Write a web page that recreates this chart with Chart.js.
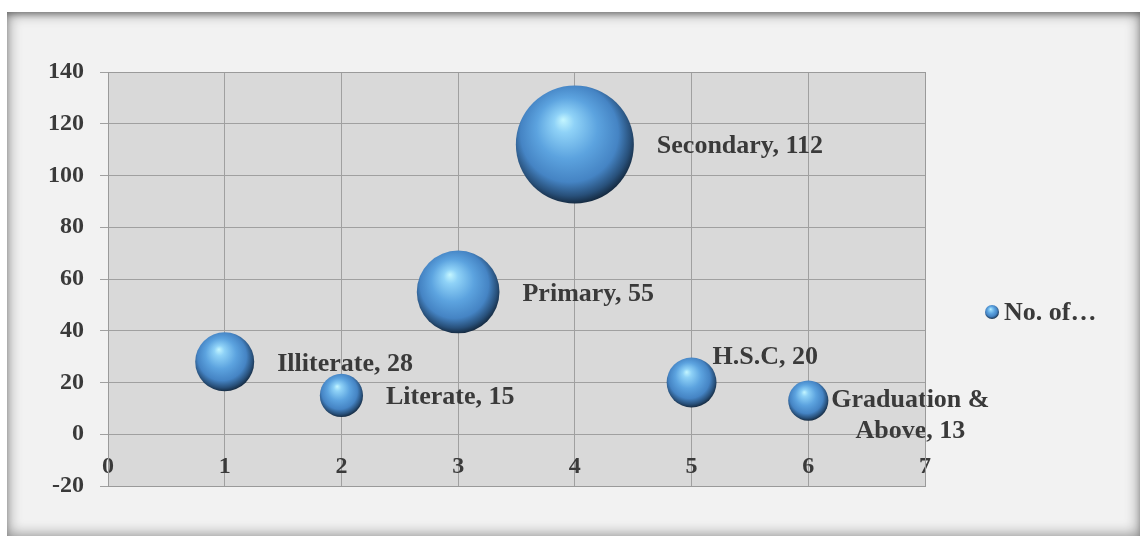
<!DOCTYPE html>
<html>
<head>
<meta charset="utf-8">
<script src="https://cdn.jsdelivr.net/npm/chart.js@4"></script>
<style>
  html, body { margin: 0; padding: 0; background: #fff; }
  #frame {
    position: absolute; left: 7px; top: 12px; width: 1133px; height: 524px;
    background: #f2f2f2;
    box-shadow: inset 0 0 14px 1px rgba(0,0,0,0.42), inset 0 4px 6px -2px rgba(0,0,0,0.35);
  }
  #myChart { position: absolute; left: 0; top: 0; }
</style>
</head>
<body>
<div id="frame"></div>
<canvas id="myChart" width="1140" height="539"></canvas>
<script>
// education levels, x position, value (also the bubble size)
const categories = ['Illiterate', 'Literate', 'Primary', 'Secondary', 'H.S.C', 'Graduation & Above'];
const xValues = [1, 2, 3, 4, 5, 6];
const counts = [28, 15, 55, 112, 20, 13];
const seriesName = 'No. of…';

const FONT = 'Liberation Serif, Times New Roman, serif';
const TEXT = '#3a3a3a';
const maxCount = Math.max(...counts);

function bubbleRadius(v) {
  return 59 * Math.sqrt(v / maxCount);
}

function sphereFill(c, x, y, r) {
  const g = c.createRadialGradient(x - 0.2 * r, y - 0.42 * r, 0, x - 0.05 * r, y - 0.1 * r, r * 1.15);
  g.addColorStop(0, '#c4f6ff');
  g.addColorStop(0.15, '#8fd2f7');
  g.addColorStop(0.45, '#5ca3df');
  g.addColorStop(0.72, '#4584c4');
  g.addColorStop(0.88, '#28507a');
  g.addColorStop(1, '#0f1e2e');
  return g;
}

const plotBg = {
  id: 'plotBg',
  beforeDraw(chart) {
    const a = chart.chartArea;
    const c = chart.ctx;
    c.save();
    c.fillStyle = '#d9d9d9';
    c.fillRect(a.left, a.top, a.width, a.height);
    c.restore();
  },
  afterDraw(chart) {
    const a = chart.chartArea;
    const c = chart.ctx;
    c.save();
    c.strokeStyle = '#9a9a9a';
    c.lineWidth = 1;
    c.strokeRect(Math.round(a.left) + 0.5, Math.round(a.top) + 0.5, Math.round(a.width), Math.round(a.height));
    c.restore();
  }
};

// data labels: "Name, value"
const labelPlace = { 4: 'above', 5: 'twoLines' };
const bubbleLabels = {
  id: 'bubbleLabels',
  afterDatasetsDraw(chart) {
    const c = chart.ctx;
    const meta = chart.getDatasetMeta(0);
    c.save();
    c.font = 'bold 26px ' + FONT;
    c.fillStyle = TEXT;
    c.textBaseline = 'middle';
    meta.data.forEach((el, i) => {
      const r = el.options.radius;
      const place = labelPlace[i] || 'right';
      const text = categories[i] + ', ' + counts[i];
      if (place === 'right') {
        c.textAlign = 'left';
        c.fillText(text, el.x + r + 23, el.y + 2);
      } else if (place === 'above') {
        c.textAlign = 'left';
        c.fillText(text, el.x + 21, el.y - r);
      } else {
        const words = categories[i].split(' ');
        const line1 = words.slice(0, 2).join(' ');
        const line2 = words.slice(2).join(' ') + ', ' + counts[i];
        c.textAlign = 'center';
        c.fillText(line1, el.x + r + 82, el.y);
        c.fillText(line2, el.x + r + 82, el.y + 31);
      }
    });
    c.restore();
  }
};

const sideLegend = {
  id: 'sideLegend',
  afterDraw(chart) {
    const c = chart.ctx;
    const x = 992, y = 312, r = 7;
    c.save();
    c.beginPath();
    c.arc(x, y, r, 0, Math.PI * 2);
    c.fillStyle = sphereFill(c, x, y, r);
    c.fill();
    c.font = 'bold 26px ' + FONT;
    c.fillStyle = TEXT;
    c.textAlign = 'left';
    c.textBaseline = 'middle';
    c.fillText(seriesName, 1004, y + 1);
    c.restore();
  }
};

const ctx = document.getElementById('myChart').getContext('2d');
const myChart = new Chart(ctx, {
  type: 'bubble',
  data: {
    datasets: [{
      label: seriesName,
      data: xValues.map((x, i) => ({ x: x, y: counts[i], v: counts[i] })),
      radius: (context) => bubbleRadius(context.raw ? context.raw.v : 10),
      hoverRadius: 0,
      borderWidth: 0,
      backgroundColor: (context) => {
        if (context.type !== 'data') return '#4f8fcf';
        const chart = context.chart;
        const d = context.raw;
        const x = chart.scales.x.getPixelForValue(d.x);
        const y = chart.scales.y.getPixelForValue(d.y);
        if (!isFinite(x) || !isFinite(y)) return '#4f8fcf';
        return sphereFill(chart.ctx, x, y, bubbleRadius(d.v));
      },
    }],
  },
  options: {
    responsive: false,
    animation: false,
    devicePixelRatio: 1,
    layout: { autoPadding: false, padding: { left: 0, right: 215, top: 72, bottom: 53 } },
    plugins: {
      legend: { display: false },
      tooltip: { enabled: false },
    },
    events: [],
    scales: {
      x: {
        type: 'linear',
        position: { y: 0 },
        min: 0,
        max: 7,
        ticks: {
          stepSize: 1,
          padding: 18,
          color: TEXT,
          font: { family: FONT, size: 24, weight: 'bold' },
        },
        grid: { color: '#a0a0a0', drawTicks: false },
        border: { color: '#a0a0a0' },
      },
      y: {
        min: -20,
        max: 140,
        afterFit: (scale) => { scale.width = 108; },
        ticks: {
          stepSize: 20,
          padding: 16,
          color: TEXT,
          font: { family: FONT, size: 24, weight: 'bold' },
        },
        grid: { color: '#a0a0a0', tickLength: 8 },
        border: { color: '#9a9a9a' },
      },
    },
  },
  plugins: [plotBg, bubbleLabels, sideLegend],
});
</script>
</body>
</html>
